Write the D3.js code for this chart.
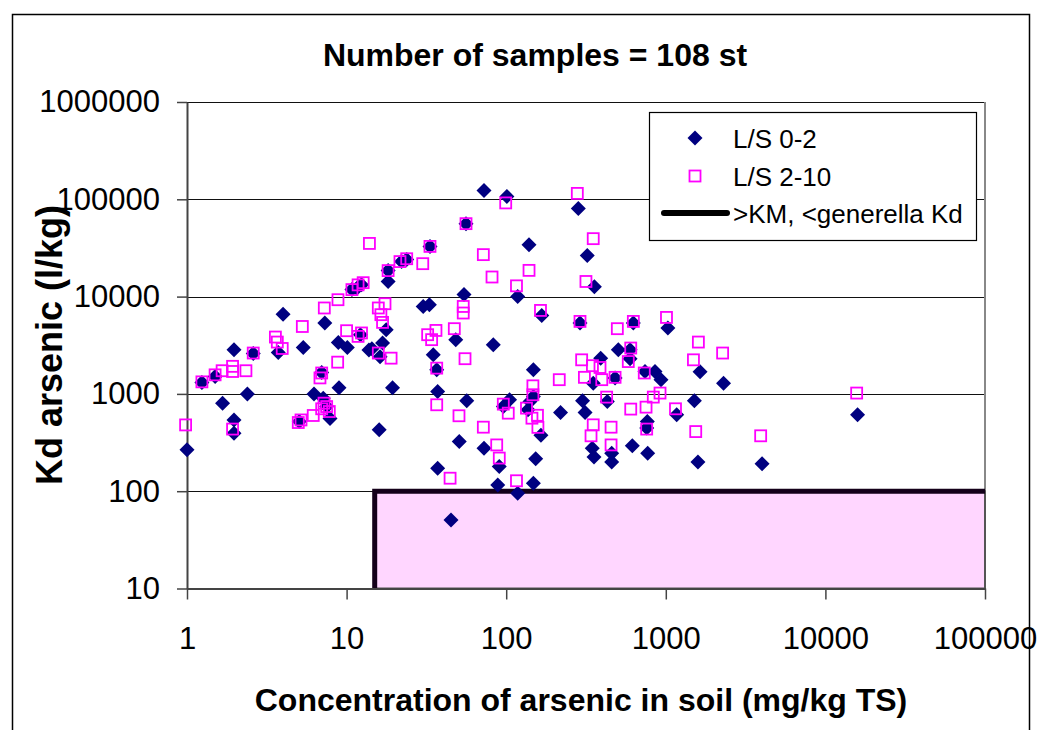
<!DOCTYPE html>
<html>
<head>
<meta charset="utf-8">
<script src="https://cdn.jsdelivr.net/npm/d3@7"></script>
<style>
  html, body { margin: 0; padding: 0; background: #fff; }
  svg { display: block; font-family: Arial, "Liberation Sans", sans-serif; }
</style>
</head>
<body>
<div id="chart"></div>
<script>
// tick values
const xTicks = [1, 10, 100, 1000, 10000, 100000];
const yTicks = [10, 100, 1000, 10000, 100000, 1000000];

// L/S 0-2 : [concentration mg/kg TS, Kd l/kg]
const ls02 = [
  [1.0, 266], [1.24, 1310], [1.5, 1510], [1.67, 800], [1.97, 2840], [1.97, 540], [1.97, 395],
  [2.39, 1000], [2.6, 2600], [3.73, 2670], [4.0, 6600], [5.05, 520], [5.35, 3000], [6.25, 1000],
  [6.98, 1660], [7.14, 900], [7.3, 5350], [7.5, 740], [7.87, 560], [8.87, 3380], [8.96, 1160],
  [10.1, 3000], [10.8, 11800], [11.6, 12200], [12.4, 13200], [12.2, 4060], [13.8, 2820],
  [72.6, 123000], [101, 107000], [56, 56200], [139, 34200], [33.3, 32800], [23.8, 24000],
  [22.1, 23000], [18.2, 18500], [18.2, 14300], [54.4, 10500], [118, 10000], [30.2, 7900],
  [33, 8260], [17.7, 4560], [16.8, 3340], [14.4, 2910], [16.2, 2410], [48.3, 3610], [83, 3200],
  [34.9, 2520], [36.7, 1770], [148, 1770], [19.4, 1160], [37.2, 1060], [56.6, 850], [105, 870],
  [96, 740], [141, 836], [137, 686], [16, 428], [50.8, 324], [72.6, 277], [90.5, 179], [153, 215],
  [37.2, 172], [88.5, 116], [148, 121], [118, 95], [45.1, 50.7],
  [283, 80200], [322, 26400], [357, 12600], [167, 6410], [290, 5350], [626, 5350], [1030, 4750],
  [504, 2840], [597, 2840], [391, 2330], [597, 2300], [741, 1700], [856, 1700], [933, 1400],
  [1640, 1690], [351, 1290], [481, 1460], [2300, 1290], [148, 940], [301, 850], [430, 836],
  [1510, 850], [219, 644], [312, 644], [1170, 609], [165, 375], [766, 520], [760, 445],
  [346, 277], [355, 224], [458, 246], [458, 199], [617, 293], [770, 246], [1590, 200],
  [4010, 191], [15900, 609]
];

// L/S 2-10
const ls210 = [
  [0.98, 480], [1.24, 1330], [1.5, 1570], [1.66, 1730], [1.93, 1920], [1.93, 1700], [2.34, 1730],
  [1.93, 435], [2.6, 2630], [3.58, 3840], [3.68, 3410], [3.95, 2930], [4.98, 508], [5.18, 540],
  [5.28, 4930], [6.18, 600], [6.98, 703], [7.22, 803], [7.5, 741], [7.79, 659], [6.98, 1640],
  [6.81, 1460], [7.25, 7640], [8.83, 9290], [8.79, 2120], [10, 4460], [10.8, 11800], [11.8, 13200],
  [12.7, 13900], [12.4, 4230], [13.9, 35200], [71.9, 27000], [30, 21800], [81.5, 15900],
  [139, 18600], [116, 12900], [15.8, 7640], [17.4, 8450], [16.4, 6520], [16.8, 5430], [53.8, 7920],
  [53.8, 6780], [164, 7210], [11.8, 3900], [32.2, 4060], [34.1, 3610], [36.3, 4490], [47.3, 4680],
  [55.2, 2300], [19, 2330], [15.8, 2630], [56, 56200], [33.3, 32800], [23.8, 24500], [21.6, 22900],
  [18.2, 18500], [99.3, 91800], [36.7, 1840], [147, 1210], [147, 980], [36.7, 773], [50.6, 596],
  [95.9, 785], [103, 634], [134, 714], [145, 563], [157, 603], [158, 453], [71.9, 455], [87.2, 299],
  [90.5, 219], [44.5, 136], [116, 128], [279, 115000], [351, 39400], [316, 14300], [290, 5560],
  [626, 5560], [1010, 6110], [497, 4680], [1600, 3410], [2270, 2630], [603, 2960], [297, 2240],
  [582, 2150], [1490, 2240], [347, 1950], [387, 1870], [215, 1400], [309, 1480], [397, 1400],
  [481, 1480], [733, 1640], [426, 927], [835, 927], [920, 1020], [603, 698], [752, 731],
  [1150, 703], [351, 481], [454, 455], [759, 435], [1540, 410], [340, 371], [454, 299],
  [15700, 1020], [3930, 371]
];

// >KM, <generella Kd : area below Kd 100 above concentration 15
const kmLine = [[15, 10], [15, 100], [100000, 100]];
const kmArea = [[15, 10], [15, 100], [100000, 100], [100000, 10]];

const legendItems = ["L/S 0-2", "L/S 2-10", ">KM, <generella Kd"];

const W = 1041, H = 730;
const svg = d3.select("#chart").append("svg")
  .attr("width", W).attr("height", H);

// outer chart border
svg.append("path")
  .attr("d", "M12.5,740 L12.5,14.5 L1029.5,14.5 L1029.5,740")
  .attr("fill", "none").attr("stroke", "#000").attr("stroke-width", 1.5);

const x = d3.scaleLog().domain([1, 100000]).range([187, 985]);
const y = d3.scaleLog().domain([10, 1000000]).range([588.5, 102]);

// title
svg.append("text")
  .attr("x", 535).attr("y", 66)
  .attr("text-anchor", "middle")
  .style("font-size", "32px").style("font-weight", "bold")
  .text("Number of samples = 108 st");

// gridlines
svg.append("g").selectAll("line")
  .data(yTicks.slice(1))
  .enter().append("line")
  .attr("x1", x(1)).attr("x2", x(100000))
  .attr("y1", d => Math.round(y(d)) + 0.5).attr("y2", d => Math.round(y(d)) + 0.5)
  .attr("stroke", "#111").attr("stroke-width", 1.2);

// plot right border
svg.append("line")
  .attr("x1", x(100000)).attr("x2", x(100000))
  .attr("y1", y(1000000)).attr("y2", y(10))
  .attr("stroke", "#888").attr("stroke-width", 2);

// KM area and line
const line = d3.line().x(d => x(d[0])).y(d => y(d[1]));
svg.append("path")
  .datum(kmArea)
  .attr("d", line.curve(d3.curveLinearClosed))
  .attr("fill", "#FFD6FF").attr("stroke", "#555").attr("stroke-width", 2);
svg.append("path")
  .datum(kmLine)
  .attr("d", d3.line().x(d => x(d[0])).y(d => y(d[1])))
  .attr("fill", "none").attr("stroke", "#14001a").attr("stroke-width", 5)
  .attr("stroke-linejoin", "miter");

// axes
const yAxis = svg.append("g")
  .attr("transform", `translate(${x(1)},0)`)
  .call(d3.axisLeft(y).tickValues(yTicks).tickFormat(d3.format("d"))
    .tickSize(10).tickSizeOuter(0).tickPadding(17));
const xAxis = svg.append("g")
  .attr("transform", `translate(0,${y(10)})`)
  .call(d3.axisBottom(x).tickValues(xTicks).tickFormat(d3.format("d"))
    .tickSize(11).tickSizeOuter(0).tickPadding(27));
[xAxis, yAxis].forEach(g => {
  g.select(".domain").attr("stroke", "#444").attr("stroke-width", 2);
  g.selectAll(".tick line").attr("stroke", "#444").attr("stroke-width", 1.5);
  g.selectAll(".tick text")
    .style("font-size", "31px").style("font-family", "Arial, 'Liberation Sans', sans-serif")
    .attr("fill", "#000");
});

// axis titles
svg.append("text")
  .attr("transform", `translate(62,345) rotate(-90)`)
  .attr("text-anchor", "middle")
  .style("font-size", "36px").style("font-weight", "bold")
  .text("Kd arsenic (l/kg)");
svg.append("text")
  .attr("x", 581).attr("y", 711)
  .attr("text-anchor", "middle")
  .style("font-size", "32px").style("font-weight", "bold")
  .text("Concentration of arsenic in soil (mg/kg TS)");

// markers
const diamond = r => `M0,${-r}L${r},0L0,${r}L${-r},0Z`;
svg.append("g").selectAll("path")
  .data(ls02)
  .enter().append("path")
  .attr("transform", d => `translate(${x(d[0])},${y(d[1])})`)
  .attr("d", diamond(7.5))
  .attr("fill", "#000080");

svg.append("g").selectAll("rect")
  .data(ls210)
  .enter().append("rect")
  .attr("x", d => x(d[0]) - 5.5).attr("y", d => y(d[1]) - 5.5)
  .attr("width", 11).attr("height", 11)
  .attr("fill", "none").attr("stroke", "#FF00FF").attr("stroke-width", 1.8);

// legend
const lg = svg.append("g").attr("transform", "translate(649,112)");
lg.append("rect")
  .attr("x", 0.5).attr("y", 0.5).attr("width", 327).attr("height", 128)
  .attr("fill", "#fff").attr("stroke", "#000").attr("stroke-width", 1.2);
const rowY = [26, 64, 101];
const items = lg.selectAll(".legend-item")
  .data(legendItems)
  .enter().append("g")
  .attr("class", "legend-item")
  .attr("transform", (d, i) => `translate(0,${rowY[i]})`);
items.append("text")
  .attr("x", 84).attr("y", 9.5)
  .style("font-size", "26px")
  .text(d => d);
items.filter((d, i) => i === 0).append("path")
  .attr("transform", "translate(46,0)").attr("d", diamond(7.5)).attr("fill", "#000080");
items.filter((d, i) => i === 1).append("rect")
  .attr("x", 40.5).attr("y", -5.5).attr("width", 11).attr("height", 11)
  .attr("fill", "none").attr("stroke", "#FF00FF").attr("stroke-width", 1.8);
items.filter((d, i) => i === 2).append("line")
  .attr("x1", 15).attr("x2", 78).attr("y1", 0).attr("y2", 0)
  .attr("stroke", "#000").attr("stroke-width", 6).attr("stroke-linecap", "round");
</script>
</body>
</html>
